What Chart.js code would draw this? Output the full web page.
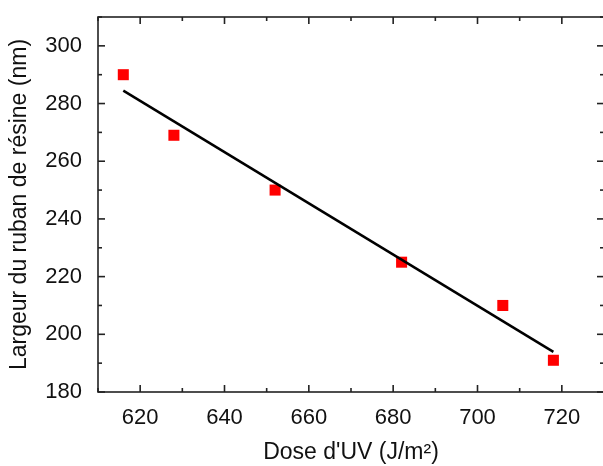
<!DOCTYPE html>
<html>
<head>
<meta charset="utf-8">
<script src="https://cdn.jsdelivr.net/npm/chart.js@4"></script>
<style>
  html, body { margin: 0; padding: 0; background: #fff; overflow: hidden; }
  #wrap { width: 612px; height: 466px; }
</style>
</head>
<body>
<div id="wrap"><canvas id="chart"></canvas></div>
<script>
// measured points
const doseUV = [616, 628, 652, 682, 706, 718];
const largeur = [290, 269, 250, 225, 210, 191];

// linear fit, endpoints
const fitDose = [616, 718];
const fitLargeur = [284.5, 193.9];

// axis ticks
const xTickValues = [620, 640, 660, 680, 700, 720];
const yTickValues = [180, 200, 220, 240, 260, 280, 300];

const FONT = "'Liberation Sans', Arial, sans-serif";

// frame + inward ticks (Origin style)
const framePlugin = {
  id: "frame",
  afterDraw(chart) {
    const { ctx, chartArea: a, scales } = chart;
    const xs = scales.x, ys = scales.y;
    ctx.save();
    ctx.strokeStyle = "#222";
    ctx.lineWidth = 1.6;
    ctx.strokeRect(a.left, a.top, a.right - a.left, a.bottom - a.top);

    const tick = (x1, y1, x2, y2) => {
      ctx.beginPath();
      ctx.moveTo(x1, y1);
      ctx.lineTo(x2, y2);
      ctx.stroke();
    };

    // major ticks, minor ones halfway between
    xs.ticks.forEach(t => {
      const px = xs.getPixelForValue(t.value);
      tick(px, a.bottom, px, a.bottom - 7);
      tick(px, a.top, px, a.top + 7);
    });
    for (let v = xs.min; v <= xs.max; v += 20) {
      const px = xs.getPixelForValue(v);
      tick(px, a.bottom, px, a.bottom - 4);
      tick(px, a.top, px, a.top + 4);
    }
    ys.ticks.forEach(t => {
      const py = ys.getPixelForValue(t.value);
      tick(a.left, py, a.left + 7, py);
      tick(a.right, py, a.right - 7, py);
    });
    for (let v = ys.min + 10; v <= ys.max; v += 20) {
      const py = ys.getPixelForValue(v);
      tick(a.left, py, a.left + 4, py);
      tick(a.right, py, a.right - 4, py);
    }
    ctx.restore();
  }
};

new Chart(document.getElementById("chart"), {
  type: "scatter",
  data: {
    datasets: [
      {
        label: "fit",
        data: fitDose.map((x, i) => ({ x, y: fitLargeur[i] })),
        showLine: true,
        borderColor: "#000",
        borderWidth: 2.5,
        pointRadius: 0,
        order: 0
      },
      {
        label: "data",
        data: doseUV.map((x, i) => ({ x, y: largeur[i] })),
        pointStyle: "rect",
        pointRadius: 7.8,
        pointBorderWidth: 0,
        backgroundColor: "#f00",
        borderColor: "#f00",
        order: 1
      }
    ]
  },
  options: {
    responsive: true,
    maintainAspectRatio: false,
    animation: false,
    layout: { padding: { top: 17, right: 8, left: 6, bottom: 0 } },
    plugins: { legend: { display: false }, tooltip: { enabled: false } },
    scales: {
      x: {
        type: "linear",
        min: 610,
        max: 730,
        afterBuildTicks: s => { s.ticks = xTickValues.map(v => ({ value: v })); },
        afterFit: s => { s.height = 466 - 392; s.paddingLeft = 0; s.paddingRight = 0; },
        grid: { display: false },
        border: { display: false },
        ticks: { color: "#111", padding: 5, font: { family: FONT, size: 22 }, maxRotation: 0 },
        title: {
          display: true,
          text: "Dose d'UV (J/m²)",
          color: "#111",
          font: { family: FONT, size: 23 },
          padding: { top: 6, bottom: 0 }
        }
      },
      y: {
        type: "linear",
        min: 180,
        max: 310,
        afterBuildTicks: s => { s.ticks = yTickValues.map(v => ({ value: v })); },
        afterFit: s => { s.width = 98 - 6; s.paddingTop = 0; s.paddingBottom = 0; },
        grid: { display: false },
        border: { display: false },
        ticks: { color: "#111", padding: 8, font: { family: FONT, size: 22 } },
        title: {
          display: true,
          text: "Largeur du ruban de résine (nm)",
          color: "#111",
          font: { family: FONT, size: 23 },
          padding: { top: 0, bottom: 4 }
        }
      }
    }
  },
  plugins: [framePlugin]
});
</script>
</body>
</html>
